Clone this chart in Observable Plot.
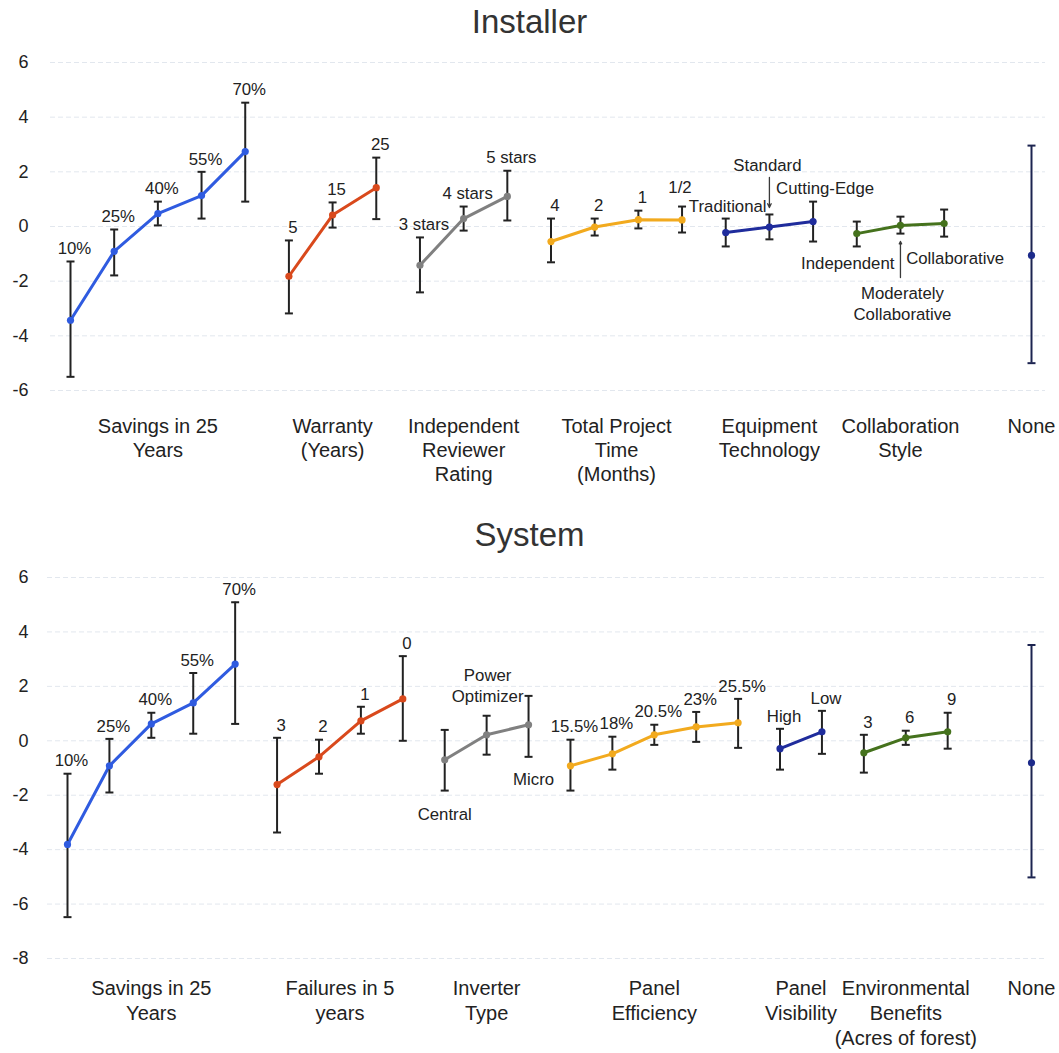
<!DOCTYPE html>
<html><head><meta charset="utf-8">
<script src="https://cdn.jsdelivr.net/npm/d3@7"></script>
<script src="https://cdn.jsdelivr.net/npm/@observablehq/plot@0.6"></script>
<style>
body{margin:0;background:#fff;font-family:Helvetica,"Liberation Sans",Arial,sans-serif;}
#root{width:1059px;}
.title{text-align:center;font-size:33px;color:#333;}
</style></head><body><div id="root"></div>
<script>
// ---------- Installer panel ----------
const instGroups = ["Savings in 25\nYears","Warranty\n(Years)","Independent\nReviewer\nRating","Total Project\nTime\n(Months)","Equipment\nTechnology","Collaboration\nStyle","None"];
const instLevels = [["10%","25%","40%","55%","70%"],["5","15","25"],["3 stars","4 stars","5 stars"],["4","2","1","1/2"],["Traditional","Standard","Cutting-Edge"],["Independent","Moderately\nCollaborative","Collaborative"],[""]];
const instUtility = [[-3.43,-0.91,0.47,1.13,2.74],[-1.82,0.42,1.42],[-1.42,0.29,1.10],[-0.55,-0.02,0.25,0.24],[-0.22,-0.02,0.18],[-0.26,0.04,0.11],[-1.06]];
const instLow = [[-5.5,-1.79,0.04,0.29,0.91],[-3.18,-0.04,0.27],[-2.41,-0.15,0.22],[-1.31,-0.33,-0.07,-0.22],[-0.73,-0.47,-0.55],[-0.73,-0.26,-0.37],[-5.0]];
const instHigh = [[-1.28,-0.11,0.91,2.0,4.53],[-0.51,0.88,2.52],[-0.40,0.73,2.04],[0.29,0.29,0.58,0.73],[0.29,0.44,0.91],[0.18,0.36,0.62],[2.96]];
const instTicks = [6,4,2,0,-2,-4,-6];

// ---------- System panel ----------
const sysGroups = ["Savings in 25\nYears","Failures in 5\nyears","Inverter\nType","Panel\nEfficiency","Panel\nVisibility","Environmental\nBenefits\n(Acres of forest)","None"];
const sysLevels = [["10%","25%","40%","55%","70%"],["3","2","1","0"],["Central","Power\nOptimizer","Micro"],["15.5%","18%","20.5%","23%","25.5%"],["High","Low"],["3","6","9"],[""]];
const sysUtility = [[-3.81,-0.92,0.62,1.39,2.82],[-1.61,-0.59,0.73,1.54],[-0.70,0.22,0.59],[-0.92,-0.48,0.22,0.51,0.66],[-0.29,0.33],[-0.44,0.11,0.33],[-0.81]];
const sysLow = [[-6.48,-1.90,0.11,0.26,0.62],[-3.37,-1.21,0.26,0.0],[-1.83,-0.51,-0.59],[-1.83,-1.06,-0.15,-0.04,-0.26],[-1.06,-0.48],[-1.17,-0.15,-0.29],[-5.02]];
const sysHigh = [[-1.21,0.07,1.03,2.49,5.09],[0.11,0.04,1.25,3.11],[0.40,0.92,1.65],[0.04,0.15,0.59,1.06,1.54],[0.44,1.10],[0.22,0.37,1.03],[3.52]];
const sysTicks = [6,4,2,0,-2,-4,-6,-8];

// ---------- styles ----------
const palette = ["#2f5be0","#d9491c","#808080","#f2aa1e","#1f2c9c","#45721d","#1c2a8a"];
const FONT = 'Helvetica, "Liberation Sans", Arial, sans-serif';
const capSymbol = {draw(ctx, size){ const w = Math.sqrt(size/Math.PI); ctx.moveTo(-w,0); ctx.lineTo(w,0); }};

// label placement (styling only)
const placements = {
  "1/2": {anchor:"hi", dx:-2, dy:-20},
  "Traditional": {anchor:"hi", dx:2, dy:-13},
  "Standard": {anchor:"hi", dx:-2, dy:-50},
  "Cutting-Edge": {anchor:"hi", dx:12, dy:-14},
  "Independent": {anchor:"lo", dx:-9, dy:16},
  "Moderately\nCollaborative": {anchor:"lo", dx:2, dy:69},
  "Collaborative": {anchor:"lo", dx:11, dy:21},
  "Central": {anchor:"lo", dx:0, dy:23},
  "Micro": {anchor:"lo", dx:5, dy:21},
  "Power\nOptimizer": {anchor:"hi", dx:1, dy:-31}
};
const defaultPlace = {anchor:"hi", dx:4, dy:-14};

function buildRows(groups, levels, util, low, high){
  const rows = []; let idx = 0;
  groups.forEach((g, gi) => {
    if (g === "None") idx++; // gap slot before "None"
    levels[gi].forEach((lv, j) => {
      rows.push({g, gi, level: lv, idx, u: util[gi][j], lo: low[gi][j], hi: high[gi][j], none: g === "None"});
      idx++;
    });
  });
  return rows;
}

function panel({title, groups, levels, util, low, high, ticks, domain, height, marginLeft, marginBottom, titleHeight, titlePad, groupDy, groupLH, arrows}){
  const rows = buildRows(groups, levels, util, low, high);
  const centers = groups.map((g, gi) => ({g, x: d3.mean(rows.filter(r => r.gi === gi), r => r.idx)}));
  const maxIdx = d3.max(rows, r => r.idx);
  const lines = rows.filter(r => !r.none);

  const byPlace = d3.groups(rows.filter(r => r.level !== ""), r => JSON.stringify(placements[r.level] || defaultPlace));
  const labelMarks = byPlace.map(([key, rs]) => {
    const p = JSON.parse(key);
    return Plot.text(rs, {x: "idx", y: p.anchor, text: "level", dx: p.dx, dy: p.dy,
      lineAnchor: "middle", textAnchor: "middle", fontSize: 16.8, fill: "#222", lineHeight: 1.25});
  });

  const arrowMarks = arrows.map(a => {
    const r = rows.find(d => d.level === a.level);
    return Plot.arrow([r], {x: "idx", y1: a.from, y2: a.to, dy: a.dy, insetStart: a.insetStart,
      stroke: "#3a3a3a", strokeWidth: 1.3, headLength: 6, headAngle: 50});
  });

  const plot = Plot.plot({
    width: 1059, height, marginLeft, marginRight: 28, marginTop: 17, marginBottom,
    style: {fontFamily: FONT, background: "#fff", overflow: "visible"},
    x: {domain: [0, maxIdx], axis: null},
    y: {domain, axis: null},
    marks: [
      Plot.ruleY(ticks, {stroke: "#e2e7ee", strokeWidth: 1, strokeDasharray: "5,3", insetLeft: -20, insetRight: -14}),
      Plot.axisY(ticks, {tickSize: 0, tickPadding: marginLeft - 28, fontSize: 18, fill: "#222", tickFormat: d => String(d), label: null}),
      Plot.line(lines, {x: "idx", y: "u", z: "g", stroke: d => palette[d.gi], strokeWidth: 3}),
      Plot.ruleX(rows, {x: "idx", y1: "lo", y2: "hi", stroke: d => d.none ? "#1c2450" : "#222", strokeWidth: 2}),
      Plot.dot(rows, {x: "idx", y: "lo", symbol: capSymbol, r: 4, stroke: d => d.none ? "#1c2450" : "#222", strokeWidth: 2}),
      Plot.dot(rows, {x: "idx", y: "hi", symbol: capSymbol, r: 4, stroke: d => d.none ? "#1c2450" : "#222", strokeWidth: 2}),
      Plot.dot(rows, {x: "idx", y: "u", r: 3.6, fill: d => palette[d.gi], stroke: "none"}),
      ...labelMarks,
      ...arrowMarks,
      Plot.text(centers, {x: "x", text: "g", frameAnchor: "bottom", dy: groupDy, lineAnchor: "top",
        fontSize: 20, fill: "#222", lineHeight: groupLH})
    ]
  });

  const wrap = document.createElement("div");
  const t = document.createElement("div");
  t.className = "title";
  t.textContent = title;
  t.style.height = titleHeight + "px";
  t.style.paddingTop = titlePad + "px";
  t.style.boxSizing = "border-box";
  t.style.lineHeight = "40px";
  wrap.appendChild(t);
  wrap.appendChild(plot);
  return wrap;
}

const root = document.getElementById("root");
root.appendChild(panel({
  title: "Installer", groups: instGroups, levels: instLevels, util: instUtility, low: instLow, high: instHigh,
  ticks: instTicks, domain: [-6, 6], height: 450, marginLeft: 70, marginBottom: 105,
  titleHeight: 45, titlePad: 2, groupDy: 25, groupLH: 1.2,
  arrows: [
    {level: "Standard", from: "hi", to: "u", dy: -19.5, insetStart: -17.5},
    {level: "Moderately\nCollaborative", from: "lo", to: "u", dy: 16, insetStart: -28}
  ]
}));
root.appendChild(panel({
  title: "System", groups: sysGroups, levels: sysLevels, util: sysUtility, low: sysLow, high: sysHigh,
  ticks: sysTicks, domain: [-8, 6], height: 493, marginLeft: 67, marginBottom: 95,
  titleHeight: 65, titlePad: 20, groupDy: 19, groupLH: 1.25,
  arrows: []
}));
</script></body></html>
